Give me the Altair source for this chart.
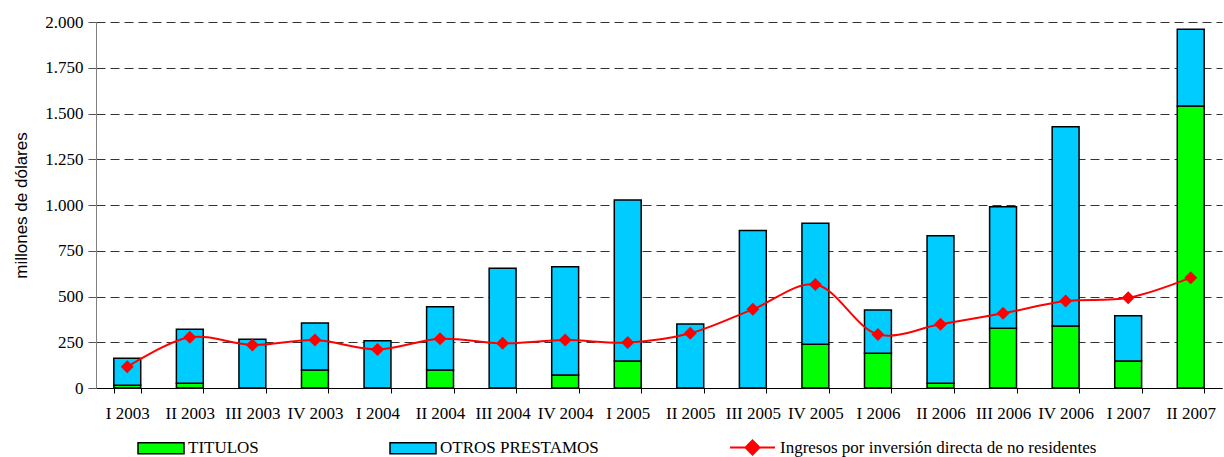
import altair as alt
import pandas as pd

quarters = ["I 2003", "II 2003", "III 2003", "IV 2003", "I 2004", "II 2004",
            "III 2004", "IV 2004", "I 2005", "II 2005", "III 2005", "IV 2005",
            "I 2006", "II 2006", "III 2006", "IV 2006", "I 2007", "II 2007"]
titulos = [15, 26, 0, 98, 0, 98, 0, 71, 148, 0, 0, 239, 190, 26, 326, 339, 148, 1541]
otros = [147, 295, 266, 257, 258, 346, 654, 592, 879, 350, 860, 661, 236, 806, 665, 1089, 247, 419]
ingresos = [116, 277, 235, 262, 211, 269, 244, 262, 248, 299, 430, 565, 293, 348, 408, 475, 493, 603]

bar_series = ["TITULOS", "OTROS PRESTAMOS"]
line_series = "Ingresos por inversión directa de no residentes"

rows = []
for i, q in enumerate(quarters):
    rows.append({"q": q, "serie": bar_series[0], "ord": 0, "v": titulos[i]})
    rows.append({"q": q, "serie": bar_series[1], "ord": 1, "v": otros[i]})
df_bars = pd.DataFrame(rows)
df_line = pd.DataFrame({"q": quarters, "v": ingresos, "serie": [line_series] * len(quarters)})

SERIF = "Liberation Serif"
FS = 17

x_enc = alt.X(
    "q:N", sort=quarters,
    scale=alt.Scale(paddingInner=0.57, paddingOuter=0.285),
    axis=alt.Axis(title=None, labelAngle=0, labelFont=SERIF, labelFontSize=FS,
                  labelColor="black", tickBand="extent", domainColor="black",
                  tickColor="black", tickSize=5, labelPadding=12, grid=False,
                  domainWidth=1.2),
)
y_scale = alt.Scale(domain=[0, 2000])
y_axis = alt.Axis(
    values=list(range(0, 2001, 250)),
    labelExpr="replace(format(datum.value, ','), ',', '.')",
    title="millones de dólares", titleFont="Liberation Sans", titleFontSize=17,
    titleFontWeight="normal", titleColor="black", titlePadding=14,
    labelFont=SERIF, labelFontSize=FS, labelColor="black", labelPadding=5,
    grid=True, gridDash=[9, 5], gridColor="#333333", gridWidth=1,
    domainColor="#808080", tickColor="#555555", tickSize=8,
)

bars = alt.Chart(df_bars).transform_filter("datum.v > 0").mark_bar(
    stroke="black", strokeWidth=1.5
).encode(
    x=x_enc,
    y=alt.Y("v:Q", stack="zero", scale=y_scale, axis=y_axis),
    fill=alt.Fill("serie:N", scale=alt.Scale(domain=bar_series, range=["#00FF00", "#00CCFF"]),
                  legend=alt.Legend(title=None, orient="none", legendX=41, legendY=402,
                                    direction="horizontal",
                                    symbolType="M-1,-0.24H1V0.24H-1Z", symbolSize=2116,
                                    symbolStrokeColor="black", symbolStrokeWidth=1.5,
                                    labelFont=SERIF, labelFontSize=FS, labelColor="black",
                                    labelOffset=3, columnPadding=128, labelLimit=400)),
    order=alt.Order("ord:Q"),
)

line = alt.Chart(df_line).mark_line(strokeWidth=2, interpolate="catmull-rom").encode(
    x=alt.X("q:N", sort=quarters),
    y=alt.Y("v:Q", scale=y_scale),
    stroke=alt.Stroke("serie:N", scale=alt.Scale(domain=[line_series], range=["#FF0000"]),
                      legend=alt.Legend(title=None, orient="none", legendX=633, legendY=402,
                                        symbolType="M-1,0H1M0,-0.31L0.31,0L0,0.31L-0.31,0Z",
                                        symbolSize=2025, symbolStrokeWidth=2,
                                        symbolFillColor="#FF0000",
                                        labelFont=SERIF, labelFontSize=FS, labelColor="black",
                                        labelOffset=4, labelLimit=600)),
)

points = alt.Chart(df_line).mark_point(shape="diamond", filled=True, size=169,
                                        color="#FF0000", opacity=1).encode(
    x=alt.X("q:N", sort=quarters),
    y=alt.Y("v:Q", scale=y_scale),
)

chart = alt.layer(bars, line, points).properties(
    width=1126, height=366,
    autosize=alt.AutoSizeParams(type="none"),
    padding={"left": 96, "top": 22, "right": 2, "bottom": 69},
    background="white",
).configure_view(stroke=None)

chart.save("out.html", embed_options={"renderer": "svg", "actions": False})
